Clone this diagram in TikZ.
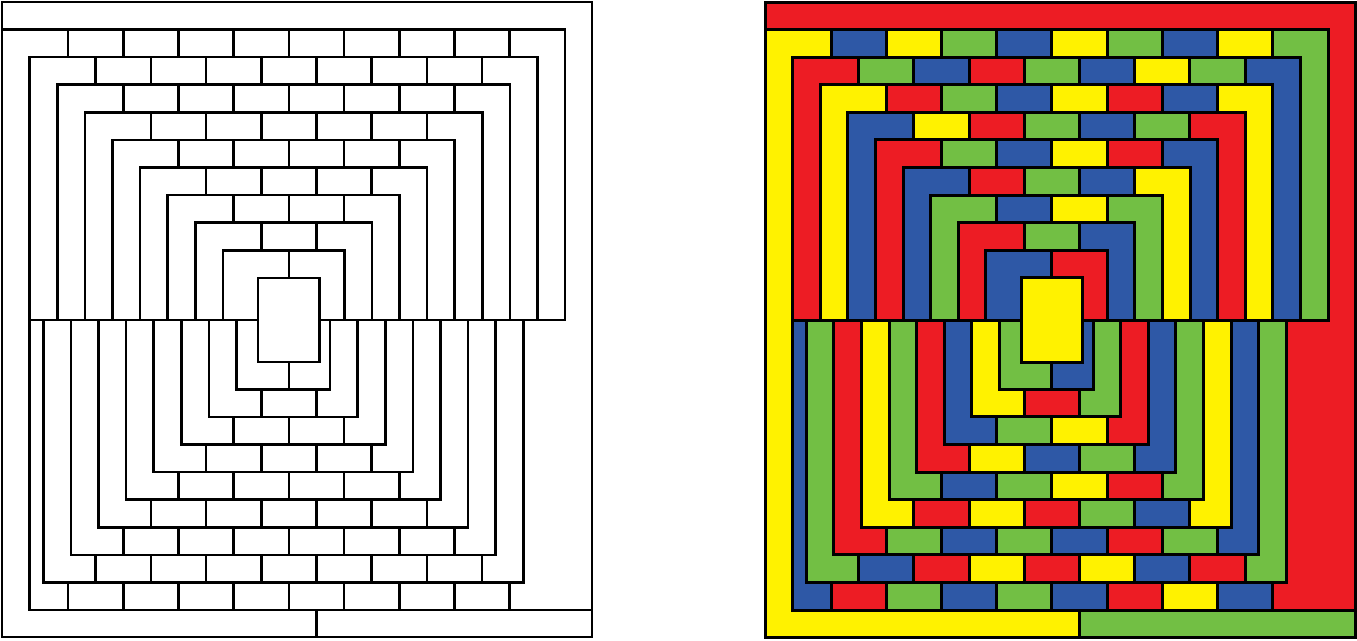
\documentclass[tikz,border=0pt]{standalone}
\usepackage{xcolor}
\definecolor{tilered}{RGB}{237, 28, 36}
\definecolor{tileyellow}{RGB}{255, 242, 0}
\definecolor{tilegreen}{RGB}{114, 191, 68}
\definecolor{tileblue}{RGB}{46, 88, 166}

\begin{document}
\begin{tikzpicture}[
    x=1pt, y=-1pt,
    piece/.style={draw=black, line width=\lw pt, line join=miter}
]
\useasboundingbox (0,0) rectangle (1357,640);
\def\u{27.6}
\def\ym{320}

% Plain copy first, coloured copy second
\foreach \dx/\colored/\lw in {0/0/2.6, 763/1/3.0} {
  \ifnum\colored=1
    \colorlet{pcR}{tilered}\colorlet{pcY}{tileyellow}\colorlet{pcG}{tilegreen}\colorlet{pcB}{tileblue}
  \else
    \colorlet{pcR}{white}\colorlet{pcY}{white}\colorlet{pcG}{white}\colorlet{pcB}{white}
  \fi
  \begin{scope}[shift={(\dx,0)}]

  % Outer pieces
  \draw[piece, fill=pcR] (2,2) -- (592,2) -- (592,610) -- (509.6,610) -- (509.6,582.4) -- (523.3,582.4)
      -- (523.3,\ym) -- (565,\ym) -- (565,29.5) -- (2,29.5) -- cycle;
  \draw[piece, fill=pcY] (2,29.5) -- (68,29.5) -- (68,57.1) -- (29.6,57.1) -- (29.6,610) -- (316.4,610)
      -- (316.4,637) -- (2,637) -- cycle;
  \draw[piece, fill=pcG] (316.4,610) rectangle (592,637);

  % Top rings (hooks)
  \foreach \k/\cl/\cr in {1/Y/G, 2/R/B, 3/Y/Y, 4/B/R, 5/R/B, 6/B/Y, 7/G/G, 8/R/B, 9/B/R} {
    \pgfmathsetmacro\ya{29.5+(\k-1)*\u}
    \pgfmathsetmacro\yb{\ya+\u}
    \pgfmathsetmacro\xa{2+(\k-1)*\u}
    \pgfmathsetmacro\xb{\k==9 ? 258 : \xa+\u}
    \pgfmathsetmacro\xc{565-(\k-1)*\u}
    \pgfmathsetmacro\xd{\k==9 ? 319.5 : \xc-\u}
    \pgfmathsetmacro\pa{68+(\k-1)*\u}
    \pgfmathsetmacro\pb{68+(17-\k)*\u}
    \ifnum\k>1
      \draw[piece, fill=pc\cl] (\xa,\ym) -- (\xa,\ya) -- (\pa,\ya) -- (\pa,\yb) -- (\xb,\yb) -- (\xb,\ym) -- cycle;
    \fi
    \draw[piece, fill=pc\cr] (\xc,\ym) -- (\xc,\ya) -- (\pb,\ya) -- (\pb,\yb) -- (\xd,\yb) -- (\xd,\ym) -- cycle;
  }

  % Top bricks
  \foreach \k/\bricks in {1/{B,Y,G,B,Y,G,B,Y}, 2/{G,B,R,G,B,Y,G}, 3/{R,G,B,Y,R,B}, 4/{Y,R,G,B,G},
                          5/{G,B,Y,R}, 6/{R,G,B}, 7/{B,Y}, 8/{G}} {
    \pgfmathsetmacro\ya{29.5+(\k-1)*\u}
    \foreach \col [count=\i from 0] in \bricks {
      \pgfmathsetmacro\xa{68+(\k-1+2*\i)*\u}
      \draw[piece, fill=pc\col] (\xa,\ya) rectangle ++(2*\u,\u);
    }
  }

  % Bottom rings (hooks)
  \foreach \j/\cl/\cr in {1/B/R, 2/G/G, 3/R/B, 4/Y/Y, 5/G/G, 6/R/B, 7/B/R, 8/Y/G, 9/G/B} {
    \pgfmathsetmacro\ya{610-(\j-1)*\u}
    \pgfmathsetmacro\yb{\ya-\u}
    \pgfmathsetmacro\xa{\j==1 ? 29.6 : 43.3+(\j-2)*\u}
    \pgfmathsetmacro\xb{\j==9 ? 258 : 43.3+(\j-1)*\u}
    \pgfmathsetmacro\xc{523.3-(\j-2)*\u}
    \pgfmathsetmacro\xd{\j==9 ? 319.5 : \xc-\u}
    \pgfmathsetmacro\pa{68+(\j-1)*\u}
    \pgfmathsetmacro\pb{68+(17-\j)*\u}
    \draw[piece, fill=pc\cl] (\xa,\ym) -- (\xa,\ya) -- (\pa,\ya) -- (\pa,\yb) -- (\xb,\yb) -- (\xb,\ym) -- cycle;
    \ifnum\j>1
      \draw[piece, fill=pc\cr] (\xc,\ym) -- (\xc,\ya) -- (\pb,\ya) -- (\pb,\yb) -- (\xd,\yb) -- (\xd,\ym) -- cycle;
    \fi
  }

  % Bottom bricks
  \foreach \j/\bricks in {1/{R,G,B,G,B,R,Y,B}, 2/{B,R,Y,R,Y,B,R}, 3/{G,B,G,B,R,G}, 4/{R,Y,R,G,B},
                          5/{B,G,Y,R}, 6/{Y,B,G}, 7/{G,Y}, 8/{R}} {
    \pgfmathsetmacro\ya{610-\j*\u}
    \foreach \col [count=\i from 0] in \bricks {
      \pgfmathsetmacro\xa{68+(\j-1+2*\i)*\u}
      \draw[piece, fill=pc\col] (\xa,\ya) rectangle ++(2*\u,\u);
    }
  }

  % Centre block
  \draw[piece, fill=pcY] (258,277.8) rectangle (319.5,362);

  \end{scope}
}
\end{tikzpicture}
\end{document}
